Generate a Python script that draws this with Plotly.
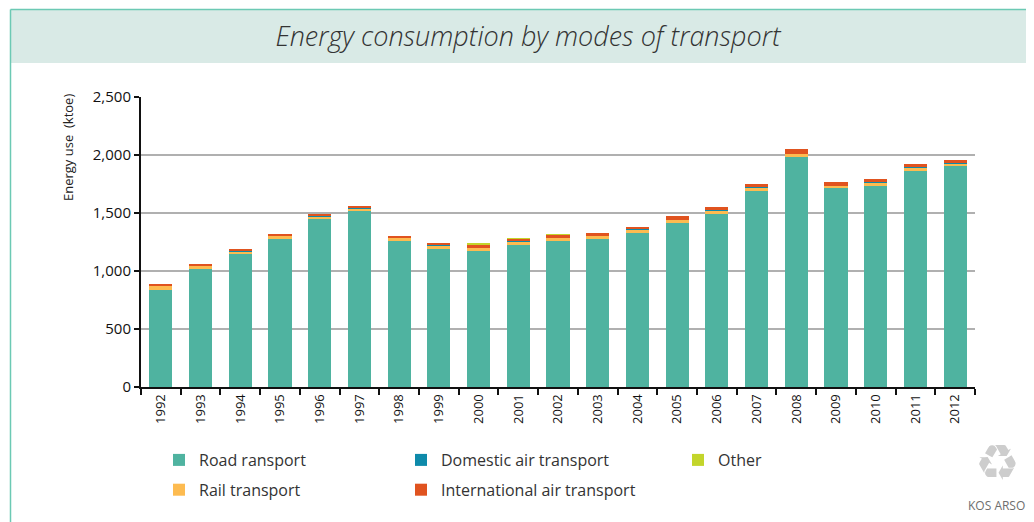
import plotly.graph_objects as go

years = [str(y) for y in range(1992, 2013)]
road = [840, 1020, 1144, 1273, 1448, 1514, 1261, 1193, 1175, 1227, 1259,
        1276, 1328, 1414, 1494, 1690, 1985, 1713, 1733, 1862, 1905]
rail = [32, 29, 26, 29, 23, 26, 26, 26, 26, 29, 26,
        26, 29, 29, 29, 29, 26, 23, 29, 32, 23]
domestic_air = [1, 1, 1, 1, 1, 1, 1, 1, 1, 1, 1,
                1, 1, 1, 1, 1, 1, 1, 1, 1, 1]
international_air = [11, 14, 19, 19, 19, 19, 16, 19, 24, 22, 27,
                     28, 22, 28, 28, 33, 42, 33, 28, 25, 25]
other = [0, 0, 0, 0, 0, 0, 0, 0, 8, 5, 4,
         0, 0, 0, 0, 0, 0, 0, 0, 0, 0]

W, H = 1034, 522
OFF = 8  # page body margin offset
L, R, T, B = 141, 975, 97, 387  # plot area in screen pixels


def px(x):
    return (x - L) / (R - L)


def py(y):
    return (B - y) / (B - T)


FONT = "Open Sans"
fig = go.Figure()
series = [
    ("Road ransport", road, "#4FB3A0", "legend", 1),
    ("Rail transport", rail, "#FDBB50", "legend", 2),
    ("Domestic air transport", domestic_air, "#0E8AAA", "legend2", 3),
    ("International air transport", international_air, "#E0531F", "legend2", 4),
    ("Other", other, "#C3D52B", "legend3", 5),
]
for name, vals, col, lg, rank in series:
    fig.add_trace(go.Bar(x=years, y=vals, name=name, marker_color=col,
                         marker_line_width=0, legend=lg, legendrank=rank,
                         legendgroup=name))

legend_common = dict(orientation="v", xref="container", yref="container",
                     yanchor="top", xanchor="left", bgcolor="rgba(0,0,0,0)",
                     font=dict(family=FONT, size=16, color="#333333"),
                     tracegroupgap=6, itemwidth=30, traceorder="grouped")


def cx(x):
    return (x - OFF) / W


def cy(y):
    return 1 - (y - OFF) / H


fig.update_layout(
    width=W, height=H,
    margin=dict(l=L - OFF, r=W - R + OFF, t=T - OFF, b=H - B + OFF, autoexpand=False),
    paper_bgcolor="white", plot_bgcolor="white",
    barmode="stack", bargap=0.42,
    font=dict(family=FONT, color="#222222"),
    title=dict(text="Energy consumption by modes of transport",
               xref="container", yref="container", x=cx(528), y=cy(37),
               xanchor="center", yanchor="middle",
               font=dict(family=FONT, size=27, color="#333333", style="italic", weight=300)),
    legend=dict(**legend_common, x=cx(159), y=cy(443)),
    legend2=dict(**legend_common, x=cx(401), y=cy(443)),
    legend3=dict(**legend_common, x=cx(678), y=cy(443)),
    xaxis=dict(showline=True, linecolor="#111111", linewidth=2,
               ticks="outside", tickson="boundaries", ticklen=6, tickwidth=1.5,
               tickcolor="#111111", tickangle=-90, automargin=False,
               tickfont=dict(family=FONT, size=13, color="#111111"),
               showgrid=False),
    yaxis=dict(range=[0, 2500], tickvals=[0, 500, 1000, 1500, 2000, 2500],
               tickformat=",", showline=True, linecolor="#111111", linewidth=2,
               ticks="outside", ticklen=5, tickwidth=1.5, tickcolor="#111111",
               tickfont=dict(family=FONT, size=15, color="#111111"),
               showgrid=True, gridcolor="#B0B0B0", gridwidth=1.5,
               zeroline=False, automargin=False),
)

# header band and frame
fig.add_shape(type="rect", xref="paper", yref="paper",
              x0=px(11), x1=px(W + 20), y0=py(63), y1=py(10),
              fillcolor="#D9EAE6", line_width=0, layer="below")
fig.add_shape(type="line", xref="paper", yref="paper",
              x0=px(10.5), x1=px(W + 20), y0=py(9.5), y1=py(9.5),
              line=dict(color="#6CC9B4", width=1.5))
fig.add_shape(type="line", xref="paper", yref="paper",
              x0=px(10.5), x1=px(10.5), y0=py(9.5), y1=py(H + 20),
              line=dict(color="#6CC9B4", width=1.5))

# y-axis title
fig.add_annotation(text="Energy use  (ktoe)", xref="paper", yref="paper",
                   x=px(68), y=py(148), textangle=-90, showarrow=False,
                   xanchor="center", yanchor="middle",
                   font=dict(family=FONT, size=13, color="#222222"))

# logo
fig.add_annotation(text="\u267B", xref="paper", yref="paper",
                   x=px(997), y=py(463), showarrow=False,
                   xanchor="center", yanchor="middle",
                   font=dict(family="DejaVu Sans", size=50, color="#CDCDCD"))
fig.add_annotation(text="KOS ARSO", xref="paper", yref="paper",
                   x=px(996), y=py(505), showarrow=False,
                   xanchor="center", yanchor="middle",
                   font=dict(family=FONT, size=12, color="#6E6E6E"))

fig.write_html("out.html")
